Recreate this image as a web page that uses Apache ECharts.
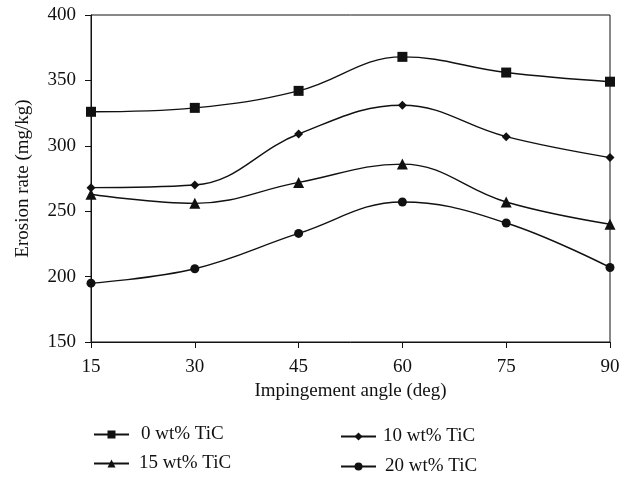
<!DOCTYPE html>
<html lang="en">
<head>
  <meta charset="UTF-8" />
  <title>Erosion rate vs impingement angle</title>
  <script src="https://cdn.jsdelivr.net/npm/echarts@6.0.0/dist/echarts.min.js"></script>
  <style>
    body { margin: 0; background: #fff; }
    #chartContainer { width: 634px; height: 477px; }
  </style>
</head>
<body>
  <div id="chartContainer"></div>
  <script>
    // angles (deg) on the x axis
    const angles = [15, 30, 45, 60, 75, 90];
    // erosion rate (mg/kg) per TiC content
    const tic0 = [326, 329, 342, 368, 356, 349];
    const tic10 = [268, 270, 309, 331, 307, 291];
    const tic15 = [263, 256, 272, 286, 257, 240];
    const tic20 = [195, 206, 233, 257, 241, 207];
    const seriesNames = ['0 wt% TiC', '10 wt% TiC', '15 wt% TiC', '20 wt% TiC'];

    const font = 'Liberation Serif, DejaVu Serif, serif';

    function pairs(vals) {
      return angles.map((a, i) => [a, vals[i]]);
    }

    function makeSeries(name, vals, symbol, size) {
      return {
        name: name,
        type: 'line',
        smooth: 0.4,
        data: pairs(vals),
        symbol: symbol,
        symbolSize: size,
        lineStyle: { color: '#111', width: 1.4 },
        itemStyle: { color: '#111' },
        emphasis: { disabled: true }
      };
    }

    // one legend per entry so the two columns line up like the original
    function legendAt(name, left, top, gap) {
      return {
        data: [name],
        left: left,
        top: top,
        padding: 0,
        itemWidth: 35,
        itemHeight: 10,
        itemGap: 10,
        textStyle: { fontFamily: font, fontSize: 19, color: '#111', padding: [0, 0, 0, gap] }
      };
    }

    const chart = echarts.init(document.getElementById('chartContainer'));
    chart.setOption({
      animation: false,
      grid: {
        left: 91, right: 24, top: 15, bottom: 135,
        show: true, borderColor: '#111', borderWidth: 1
      },
      legend: [
        legendAt(seriesNames[0], 93, 425, 7),
        legendAt(seriesNames[1], 340, 427, 2),
        legendAt(seriesNames[2], 93, 454, 5),
        legendAt(seriesNames[3], 340, 457, 4)
      ],
      xAxis: {
        type: 'value',
        min: 15, max: 90, interval: 15,
        name: 'Impingement angle (deg)',
        nameLocation: 'middle',
        nameGap: 33,
        nameTextStyle: { fontFamily: font, fontSize: 19, color: '#111' },
        axisLine: { lineStyle: { color: '#111' } },
        axisTick: { length: 6, lineStyle: { color: '#111' } },
        axisLabel: { fontFamily: font, fontSize: 19, color: '#111', margin: 16 },
        splitLine: { show: false }
      },
      yAxis: {
        type: 'value',
        min: 150, max: 400, interval: 50,
        name: 'Erosion rate (mg/kg)',
        nameLocation: 'middle',
        nameGap: 58,
        nameTextStyle: { fontFamily: font, fontSize: 19, color: '#111' },
        axisLine: { show: true, lineStyle: { color: '#111' } },
        axisTick: { show: true, length: 6, lineStyle: { color: '#111' } },
        axisLabel: { fontFamily: font, fontSize: 19, color: '#111', margin: 15 },
        splitLine: { show: false }
      },
      series: [
        makeSeries(seriesNames[0], tic0, 'rect', 10),
        makeSeries(seriesNames[1], tic10, 'diamond', 9),
        makeSeries(seriesNames[2], tic15, 'triangle', 11),
        makeSeries(seriesNames[3], tic20, 'circle', 9)
      ]
    });
  </script>
</body>
</html>
